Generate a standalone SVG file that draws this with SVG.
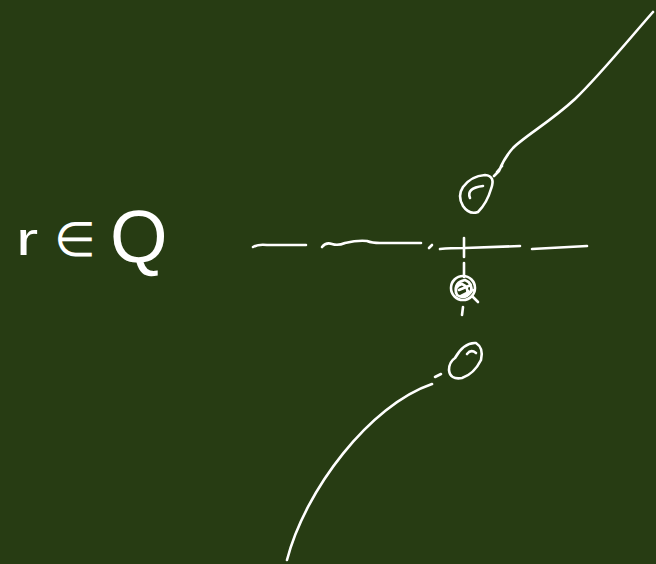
<svg xmlns="http://www.w3.org/2000/svg" width="656" height="564" viewBox="0 0 656 564">
<style>
.s{fill:none;stroke:#fff;stroke-width:2.6;stroke-linecap:round;stroke-linejoin:round}
.t{fill:#fff;font-family:"Liberation Sans",Arial,sans-serif}
</style>
<rect width="656" height="564" fill="#273c13"/>
<g id="label">
<text class="t" transform="translate(16,255) scale(1.45,1)" font-size="46">r</text>
<text class="t" x="54" y="256" font-size="48">∈</text>
<text class="t" x="110" y="262" font-size="74">Q</text>
</g>
<g id="axis">
<path class="s" d="M253,247 Q258,244 267,245 L306,245"/>
<path class="s" d="M322,247 Q326,242 332,244 Q338,246 345,243 Q358,240 367,241 Q372,243 380,243 L421,243"/>
<path class="s" d="M429,248 L432,245"/>
<path class="s" d="M440,249 Q450,248 465,248 L520,246"/>
<path class="s" d="M464,238 L464,257"/>
<path class="s" d="M532,249 L587,246"/>
</g>
<g id="point-upper">
<path class="s" d="M485,175 Q496,176 491,189 Q487,203 478,212 Q469,215 463,206 Q457,196 463,187 Q471,176 485,175 Z"/>
<path class="s" d="M470,198 Q466,188 483,186"/>
</g>
<g id="point-middle">
<path class="s" d="M464,263 L464,277"/>
<ellipse class="s" cx="463" cy="288" rx="12" ry="12"/>
<path class="s" d="M456,293 Q454,282 465,280 Q473,283 471,292 Q465,300 457,295 Q453,287 462,284 Q469,287 467,294 M459,290 L471,285 M461,296 L473,290 M472,296 L478,302"/>
<path class="s" d="M463,307 L462,315"/>
</g>
<g id="point-lower">
<path class="s" d="M455,358 Q464,342 476,343 Q484,348 481,360 Q474,374 462,378 Q450,380 449,370 Q449,362 455,358 Z"/>
<path class="s" d="M467,354 Q471,349 476,353"/>
</g>
<g id="connectors">
<path class="s" d="M653,12 C630,38 600,75 575,99 C550,122 525,136 513,148 Q504,158 499,171 L494,176 M497,172 L502,166"/>
<path class="s" d="M287,560 C305,490 370,405 432,384"/>
<path class="s" d="M435,377 L441,374"/>
</g>
</svg>
